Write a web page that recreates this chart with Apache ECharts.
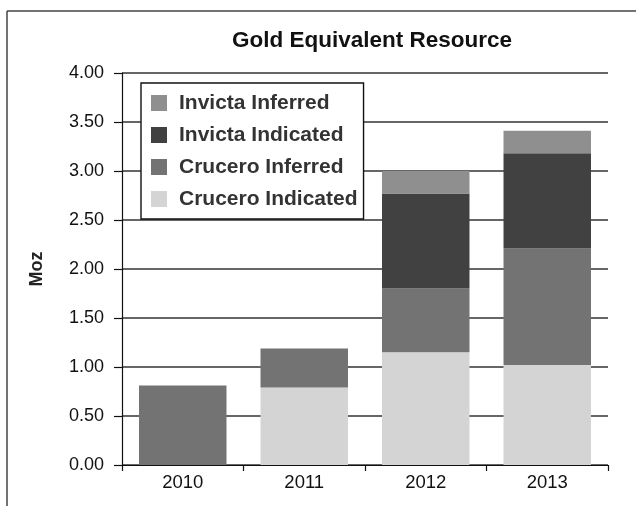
<!DOCTYPE html>
<html>
<head>
<meta charset="utf-8">
<script src="https://cdn.jsdelivr.net/npm/echarts@6/dist/echarts.min.js"></script>
<style>
  html, body { margin: 0; padding: 0; background: #fff; }
  #myChart { width: 636px; height: 506px; }
</style>
</head>
<body>
<div id="myChart"></div>
<script>
// data
const years = ['2010', '2011', '2012', '2013']
const cruceroIndicated = [0, 0.79, 1.15, 1.02]
const cruceroInferred = [0.81, 0.40, 0.65, 1.19]
const invictaIndicated = [0, 0, 0.97, 0.97]
const invictaInferred = [0, 0, 0.23, 0.23]
const legendOrder = ['Invicta Inferred', 'Invicta Indicated', 'Crucero Inferred', 'Crucero Indicated']

const font = 'Liberation Sans, Arial, sans-serif'

const mkSeries = (name, data, color) => {
  return {
    name: name,
    type: 'bar',
    stack: 'total',
    barCategoryGap: '28%',
    data: data,
    itemStyle: { color: color },
    emphasis: { disabled: true }
  }
}

const chart = echarts.init(document.getElementById('myChart'))
const option = {
  animation: false,
  textStyle: { fontFamily: font },
  title: {
    text: 'Gold Equivalent Resource',
    left: 232,
    top: 29,
    padding: 0,
    textStyle: { fontSize: 22.5, fontWeight: 'bold', color: '#111', fontFamily: font }
  },
  // outer frame (left and top edges only, the rest is cut off)
  graphic: [
    { type: 'line', shape: { x1: 7, y1: 11, x2: 7, y2: 506 }, style: { stroke: '#444', lineWidth: 1.5 } },
    { type: 'line', shape: { x1: 7, y1: 11, x2: 636, y2: 11 }, style: { stroke: '#444', lineWidth: 1.5 } }
  ],
  legend: {
    data: legendOrder,
    orient: 'vertical',
    left: 141,
    top: 83,
    padding: [9, 6, 9, 10],
    itemWidth: 16,
    itemHeight: 16,
    itemGap: 10,
    icon: 'rect',
    backgroundColor: '#fff',
    borderColor: '#111',
    borderWidth: 1.4,
    borderRadius: 0,
    textStyle: {
      fontSize: 21,
      fontWeight: 'bold',
      color: '#333',
      fontFamily: font,
      lineHeight: 22,
      padding: [0, 0, 0, 7]
    }
  },
  grid: {
    left: 122,
    right: 28,
    top: 73,
    bottom: 41
  },
  xAxis: {
    type: 'category',
    data: years,
    axisLine: { lineStyle: { color: '#111', width: 1.2 } },
    axisTick: { show: true, length: 6, lineStyle: { color: '#111', width: 1.2 } },
    axisLabel: { fontSize: 18.5, color: '#111', margin: 8, fontFamily: font }
  },
  yAxis: {
    type: 'value',
    min: 0,
    max: 4,
    interval: 0.5,
    name: 'Moz',
    nameLocation: 'middle',
    nameRotate: 90,
    nameGap: 76,
    nameTextStyle: { fontSize: 18, fontWeight: 'bold', color: '#222', fontFamily: font },
    axisLine: { show: true, lineStyle: { color: '#111', width: 1.2 } },
    axisTick: { show: true, length: 8, lineStyle: { color: '#111', width: 1.2 } },
    axisLabel: {
      fontSize: 18,
      color: '#111',
      margin: 18,
      fontFamily: font,
      formatter: function (val) {
        return val.toFixed(2)
      }
    },
    splitLine: { show: true, lineStyle: { color: '#333', width: 1.5 } }
  },
  series: [
    mkSeries('Crucero Indicated', cruceroIndicated, '#d4d4d4'),
    mkSeries('Crucero Inferred', cruceroInferred, '#737373'),
    mkSeries('Invicta Indicated', invictaIndicated, '#414141'),
    mkSeries('Invicta Inferred', invictaInferred, '#8f8f8f')
  ]
}
chart.setOption(option)
</script>
</body>
</html>
